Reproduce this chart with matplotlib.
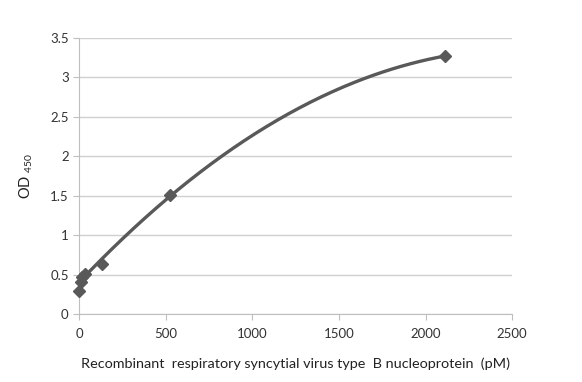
import numpy as np
import matplotlib
matplotlib.use("Agg")
import matplotlib.pyplot as plt

# standard curve: concentration (pM) vs OD450
conc_pm = [0, 8, 16, 33, 130, 525, 2110]
od450 = [0.29, 0.41, 0.47, 0.51, 0.63, 1.51, 3.27]

x_ticks = [0, 500, 1000, 1500, 2000, 2500]
y_ticks = [0, 0.5, 1, 1.5, 2, 2.5, 3, 3.5]

plt.rcParams['font.family'] = ['Lato', 'DejaVu Sans']

fig = plt.figure(figsize=(5.82, 3.82), dpi=100)
ax = fig.add_axes([0.136, 0.178, 0.744, 0.7225])

# 2nd order trendline fitted to the standards
coef = np.polyfit(conc_pm[1:], od450[1:], 2)
xs = np.linspace(0, conc_pm[-1], 200)
ax.plot(xs, np.polyval(coef, xs), color='#595959', lw=2.4, zorder=3)
ax.plot(conc_pm, od450, 'D', color='#595959', ms=6.5, zorder=4, clip_on=False)

ax.set_xlim(0, 2500)
ax.set_ylim(0, 3.5)
ax.set_xticks(x_ticks)
ax.set_yticks(y_ticks)
ax.set_yticklabels([f"{v:g}" for v in y_ticks])
ax.yaxis.grid(True, color='#d0d0d0', lw=1)
ax.set_axisbelow(True)
for s in ['top', 'right']:
    ax.spines[s].set_visible(False)
for s in ['left', 'bottom']:
    ax.spines[s].set_color('#bfbfbf')
ax.tick_params(axis='both', colors='#bfbfbf', labelcolor='#333333', labelsize=9.5, length=4)
ax.tick_params(axis='x', pad=6)

ax.set_xlabel('Recombinant  respiratory syncytial virus type  B nucleoprotein  (pM)',
              fontsize=10.4, color='#222222', labelpad=13)
ax.set_ylabel(r'OD $_{\mathregular{450}}$', fontsize=10.5, color='#222222', labelpad=11)

fig.savefig('out.png', dpi=100)
